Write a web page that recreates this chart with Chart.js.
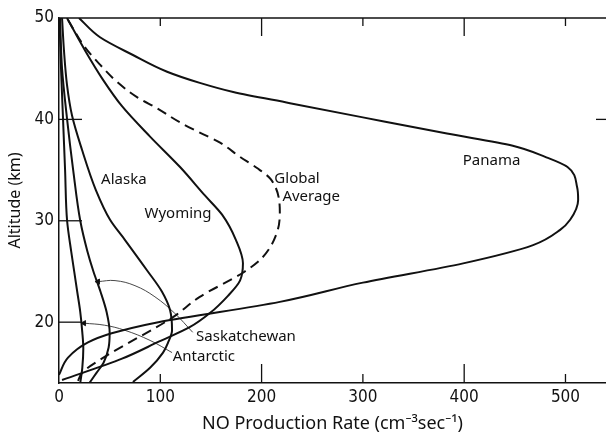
<!DOCTYPE html>
<html>
<head>
<meta charset="utf-8">
<script src="https://cdn.jsdelivr.net/npm/chart.js@4.4.1/dist/chart.umd.min.js"></script>
<style>
html, body { margin: 0; padding: 0; background: #fff; }
#wrap { width: 606px; height: 435px; }
</style>
</head>
<body>
<div id="wrap"><canvas id="chart"></canvas></div>
<script>
// NO production rate (cm-3 s-1) against altitude (km)

let panamaAlt  = [50, 48.1, 46.35, 44.7, 43.6, 42.7, 41.6, 40.2, 38.6, 37.4, 36.3, 35.3, 33.3, 32.05, 30.1, 29.1, 27.6, 25.8, 23.9, 22.0, 20.0, 18.9, 18.0, 16.5, 14.8];
let panamaRate = [19.7, 40.5, 73, 106.7, 139, 172, 228, 300, 383, 448, 480, 502, 511.5, 512.5, 504.6, 494.7, 468, 399, 300, 218, 98, 52, 28.6, 8.9, 0];

let globalAlt  = [49.8, 47.1, 45.4, 43.7, 42.2, 41.1, 39.7, 38.7, 37.7, 36.3, 35.2, 34.1, 30.8, 28.8, 26.4, 24.9, 22.5, 20.5, 16.6, 15.1, 14.0];
let globalRate = [8.9, 25.7, 40.5, 57.3, 77, 96.8, 119.5, 139, 159, 178.7, 195.5, 209, 218, 215, 201, 182, 139, 112.6, 45.4, 23.7, 17.8];

let wyomingAlt  = [50, 46.8, 43.9, 41.3, 38.3, 35.3, 32.5, 30.6, 28.1, 25.8, 24.1, 22.6, 20.9, 19.5, 18.1, 16.4, 14.3];
let wyomingRate = [7.9, 25.7, 43.5, 62.2, 89.9, 119.5, 144, 161, 174.7, 181.6, 178.7, 166.8, 149, 129, 99, 62.2, 3];

let alaskaAlt  = [50, 46.8, 43.4, 40.4, 37, 33.0, 30.1, 28.1, 25.1, 23.0, 21.2, 19.2, 18.0, 17.0, 15.5, 14.1];
let alaskaRate = [3, 4.9, 7.9, 12.8, 22.7, 36.5, 50.4, 65.2, 87, 101.7, 109.6, 111.6, 107.7, 102.7, 89.9, 73];

let saskAlt  = [50, 45, 40, 35, 30, 27, 25, 23, 21, 19, 17.5, 16, 15, 14];
let saskRate = [1, 3, 8, 14, 21, 28, 34, 41, 47, 50, 49, 44, 37, 30];

let antarcticAlt  = [50, 45, 40, 35, 30, 27, 25, 23, 21, 19, 17.4, 15.5, 14];
let antarcticRate = [0.5, 2, 4, 6, 8, 12, 15, 18, 21, 23, 24, 23, 21];

// thin leader lines from the labels to their curves
let saskPointerAlt  = [19.0, 20.9, 22.5, 23.6, 24.1, 24.0];
let saskPointerRate = [132, 114, 94.7, 75, 55.3, 38.5];
let antPointerAlt   = [17.0, 18.2, 19.2, 19.7, 19.9];
let antPointerRate  = [111.6, 89.9, 65, 45, 24.7];

let xTickValues = [0, 100, 200, 300, 400, 500];
let yTickValues = [20, 30, 40, 50];

let curveLabels = [
    { text: 'Alaska', x: 64, y: 34.0 },
    { text: 'Wyoming', x: 117.5, y: 30.7 },
    { text: 'Global', x: 235, y: 34.1 },
    { text: 'Average', x: 249, y: 32.4 },
    { text: 'Panama', x: 427, y: 35.9 },
    { text: 'Saskatchewan', x: 184.6, y: 18.6 },
    { text: 'Antarctic', x: 143, y: 16.6 }
];

function toPoints(rates, alts) {
    let pts = [];
    for (let i = 0; i < rates.length; i++) {
        pts.push({ x: rates[i], y: alts[i] });
    }
    return pts;
}

function curve(rates, alts, dashed) {
    return {
        data: toPoints(rates, alts),
        showLine: true,
        borderColor: '#111',
        borderWidth: 2,
        borderDash: dashed ? [10, 6] : [],
        cubicInterpolationMode: 'monotone',
        pointRadius: 0
    };
}

function pointer(rates, alts) {
    let last = rates.length - 1;
    return {
        data: toPoints(rates, alts),
        showLine: true,
        borderColor: '#333',
        borderWidth: 0.9,
        tension: 0.4,
        pointStyle: 'triangle',
        pointRotation: -90,
        pointBackgroundColor: '#111',
        pointBorderColor: '#111',
        pointRadius: ctx => ctx.dataIndex === last ? 3 : 0
    };
}

let labelFont = '15px "Noto Sans", "DejaVu Sans", sans-serif';
let tickFont = { family: '"Liberation Sans Narrow", "DejaVu Sans Condensed", sans-serif', size: 17 };

// frame, inward ticks and curve names
let framePlugin = {
    id: 'frame',
    beforeDatasetsDraw: function(chart) {
        let ctx = chart.ctx;
        let a = chart.chartArea;
        let xs = chart.scales.x;
        let ys = chart.scales.y;
        ctx.save();
        ctx.strokeStyle = '#111';
        ctx.lineWidth = 1.5;
        ctx.beginPath();
        ctx.moveTo(a.left, a.top);
        ctx.lineTo(a.right, a.top);
        ctx.stroke();
        ctx.lineWidth = 1.3;
        for (let i = 1; i < xTickValues.length; i++) {
            let px = xs.getPixelForValue(xTickValues[i]);
            let len = (xTickValues[i] % 200 === 0) ? 19 : 9;
            ctx.beginPath();
            ctx.moveTo(px, a.bottom);
            ctx.lineTo(px, a.bottom - len);
            ctx.moveTo(px, a.top);
            ctx.lineTo(px, a.top + len - 1);
            ctx.stroke();
        }
        for (let i = 0; i < yTickValues.length - 1; i++) {
            let py = ys.getPixelForValue(yTickValues[i]);
            ctx.beginPath();
            ctx.moveTo(a.left, py);
            ctx.lineTo(a.left + 23, py);
            ctx.stroke();
        }
        let p40 = ys.getPixelForValue(40);
        ctx.beginPath();
        ctx.moveTo(a.right, p40);
        ctx.lineTo(a.right - 10, p40);
        ctx.stroke();
        ctx.restore();
    },
    afterDatasetsDraw: function(chart) {
        let ctx = chart.ctx;
        ctx.save();
        ctx.fillStyle = '#111';
        ctx.font = labelFont;
        ctx.textAlign = 'center';
        ctx.textBaseline = 'middle';
        curveLabels.forEach(function(l) {
            ctx.fillText(l.text,
                chart.scales.x.getPixelForValue(l.x),
                chart.scales.y.getPixelForValue(l.y));
        });
        ctx.restore();
    }
};

let config = {
    type: 'scatter',
    data: {
        datasets: [
            curve(panamaRate, panamaAlt, false),
            curve(globalRate, globalAlt, true),
            curve(wyomingRate, wyomingAlt, false),
            curve(alaskaRate, alaskaAlt, false),
            curve(saskRate, saskAlt, false),
            curve(antarcticRate, antarcticAlt, false),
            pointer(saskPointerRate, saskPointerAlt),
            pointer(antPointerRate, antPointerAlt)
        ]
    },
    options: {
        responsive: true,
        maintainAspectRatio: false,
        animation: false,
        indexAxis: 'y',
        layout: { padding: { top: 18, right: 0, left: 0, bottom: 0 }, autoPadding: false },
        plugins: {
            legend: { display: false },
            tooltip: { enabled: false }
        },
        scales: {
            x: {
                type: 'linear',
                min: 0,
                max: 540,
                afterBuildTicks: s => { s.ticks = xTickValues.map(v => ({ value: v })); },
                afterFit: s => { s.height = 52; s.paddingLeft = 0; s.paddingRight = 0; },
                grid: { drawOnChartArea: false, drawTicks: false },
                border: { display: true, color: '#111', width: 1.5 },
                ticks: { color: '#111', font: tickFont, padding: 4, maxRotation: 0 },
                title: {
                    display: true,
                    text: 'NO Production Rate (cm⁻³sec⁻¹)',
                    color: '#111',
                    font: { family: '"Noto Sans", "DejaVu Sans", sans-serif', size: 18 },
                    padding: { top: 0, bottom: 0 }
                }
            },
            y: {
                type: 'linear',
                min: 14,
                max: 50,
                afterBuildTicks: s => { s.ticks = yTickValues.map(v => ({ value: v })); },
                afterFit: s => { s.width = 59; s.paddingTop = 0; s.paddingBottom = 0; },
                grid: { drawOnChartArea: false, drawTicks: false },
                border: { display: true, color: '#111', width: 1.5 },
                ticks: { color: '#111', font: tickFont, padding: 5 },
                title: {
                    display: true,
                    text: 'Altitude (km)',
                    color: '#111',
                    font: { family: '"Noto Sans", "DejaVu Sans", sans-serif', size: 16 },
                    padding: { top: 6, bottom: 0 }
                }
            }
        }
    },
    plugins: [framePlugin]
};

new Chart(document.getElementById('chart'), config);
</script>
</body>
</html>
